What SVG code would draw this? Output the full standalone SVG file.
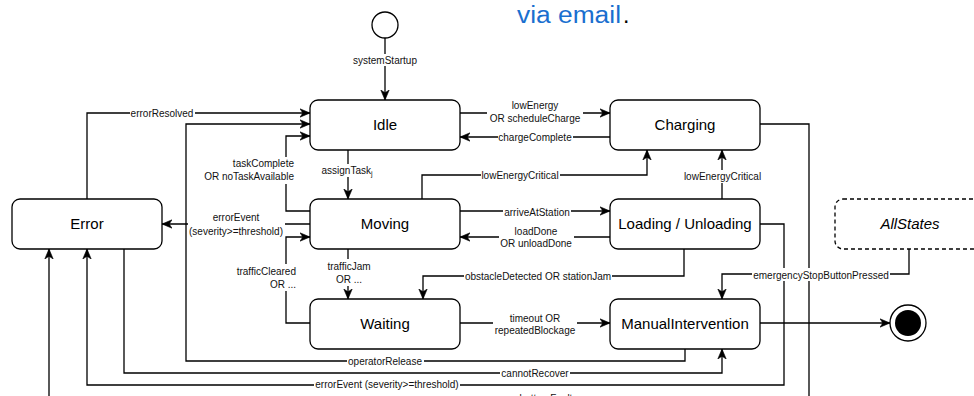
<svg xmlns="http://www.w3.org/2000/svg" width="974" height="396" viewBox="0 0 974 396">
<defs>
<style>
.node rect{fill:#fff;stroke:#000;stroke-width:1.3}
.ntext{font-family:"Liberation Sans",Arial,sans-serif;font-size:15px;fill:#000;text-anchor:middle}
.edge{fill:none;stroke:#000;stroke-width:1.3;marker-end:url(#arr)}
.lbl{font-family:"Liberation Sans",Arial,sans-serif;font-size:10px;fill:#111;text-anchor:middle}
.lbg{fill:#fff;stroke:none}
</style>
<marker id="arr" markerUnits="userSpaceOnUse" markerWidth="12" markerHeight="10" refX="10" refY="5" orient="auto">
<path d="M0,0.8 L10,5 L0,9.2 L2.8,5 Z" fill="#000" stroke="#000" stroke-width="0.6"/>
</marker>
</defs>
<rect width="974" height="396" fill="#fff"/>
<text x="517" y="23" font-family="'Liberation Sans',Arial,sans-serif" font-size="23" fill="#1a6fcf" textLength="104" lengthAdjust="spacingAndGlyphs">via email</text>
<text x="623" y="23" font-family="'Liberation Sans',Arial,sans-serif" font-size="23" fill="#000">.</text>

<g id="connectors">
<path class="edge" d="M385,38 V100"/>
<path class="edge" d="M87,199 V113 H310"/>
<path class="edge" d="M685,349 V361 H186 V124 H310"/>
<path class="edge" d="M310,211 H286 V136 H310"/>
<path class="edge" d="M310,224 H162"/>
<path class="edge" d="M310,323 H286 V237 H310"/>
<path class="edge" d="M348,150 V199"/>
<path class="edge" d="M348,249 V299"/>
<path class="edge" d="M460,113 H610"/>
<path class="edge" d="M610,137 H460"/>
<path class="edge" d="M422,199 V175 H647 V150"/>
<path class="edge" d="M722,199 V150"/>
<path class="edge" d="M460,211 H610"/>
<path class="edge" d="M610,237 H460"/>
<path class="edge" d="M684,249 V276 H423 V299"/>
<path class="edge" d="M460,323 H610"/>
<path class="edge" d="M909,249 V274 H722 V299"/>
<path class="edge" d="M760,323 H890"/>
<path class="edge" d="M124,249 V373 H722 V349"/>
<path class="edge" d="M760,224 H784 V385 H87 V249"/>
<path class="edge" d="M760,124 H809 V400 H49 V249"/>

<g id="labels">
<rect class="lbg" x="352" y="54" width="66" height="12"/>
<text class="lbl" x="385" y="63.5">systemStartup</text>
<rect class="lbg" x="130" y="107" width="65" height="12"/>
<text class="lbl" x="162" y="116.5">errorResolved</text>
<rect class="lbg" x="202" y="157" width="94" height="27"/>
<text class="lbl" x="294" y="166.5" style="text-anchor:end">taskComplete</text>
<text class="lbl" x="294" y="179.5" style="text-anchor:end">OR noTaskAvailable</text>
<rect class="lbg" x="188" y="210" width="97" height="28"/>
<text class="lbl" x="236" y="220.5">errorEvent</text>
<text class="lbl" x="236" y="234.5">(severity&gt;=threshold)</text>
<rect class="lbg" x="234" y="264" width="64" height="27"/>
<text class="lbl" x="296" y="275" style="text-anchor:end">trafficCleared</text>
<text class="lbl" x="296" y="287.5" style="text-anchor:end">OR ...</text>
<rect class="lbg" x="320" y="164" width="55" height="13"/>
<text class="lbl" x="347" y="174">assignTask<tspan font-size="7" dy="2">j</tspan></text>
<rect class="lbg" x="323" y="259" width="52" height="27"/>
<text class="lbl" x="349" y="269.5">trafficJam</text>
<text class="lbl" x="349" y="282.5">OR ...</text>
<rect class="lbg" x="487" y="99" width="96" height="26"/>
<text class="lbl" x="535" y="109">lowEnergy</text>
<text class="lbl" x="535" y="121.5">OR scheduleCharge</text>
<rect class="lbg" x="498" y="131" width="75" height="13"/>
<text class="lbl" x="535" y="141">chargeComplete</text>
<rect class="lbg" x="481" y="169" width="79" height="13"/>
<text class="lbl" x="520" y="179">lowEnergyCritical</text>
<rect class="lbg" x="683" y="170" width="79" height="13"/>
<text class="lbl" x="722.5" y="180">lowEnergyCritical</text>
<rect class="lbg" x="503" y="206" width="68" height="12"/>
<text class="lbl" x="537" y="215.5">arriveAtStation</text>
<rect class="lbg" x="499" y="224" width="75" height="26"/>
<text class="lbl" x="536" y="234.5">loadDone</text>
<text class="lbl" x="536" y="246.5">OR unloadDone</text>
<rect class="lbg" x="464" y="270" width="148" height="12"/>
<text class="lbl" x="538" y="279.5">obstacleDetected OR stationJam</text>
<rect class="lbg" x="493" y="311" width="84" height="26"/>
<text class="lbl" x="535" y="321.5">timeout OR</text>
<text class="lbl" x="535" y="333.5">repeatedBlockage</text>
<rect class="lbg" x="752" y="268" width="138" height="13"/>
<text class="lbl" x="821" y="278.5">emergencyStopButtonPressed</text>
<rect class="lbg" x="347" y="355" width="77" height="12"/>
<text class="lbl" x="385" y="364.5">operatorRelease</text>
<rect class="lbg" x="500" y="367" width="70" height="12"/>
<text class="lbl" x="535" y="376.5">cannotRecover</text>
<rect class="lbg" x="314" y="379" width="146" height="12"/>
<text class="lbl" x="387" y="387.5">errorEvent (severity&gt;=threshold)</text>
<rect class="lbg" x="518" y="393" width="56" height="12"/>
<text class="lbl" x="546" y="402">batteryFault</text>
</g>
</g>

<g id="start"><circle cx="385" cy="25" r="13" fill="#fff" stroke="#000" stroke-width="1.3"/></g>
<g id="idle" class="node"><rect x="310" y="100" width="150" height="50" rx="8"/><text class="ntext" x="385" y="130">Idle</text></g>
<g id="charging" class="node"><rect x="610" y="100" width="150" height="50" rx="8"/><text class="ntext" x="685" y="130">Charging</text></g>
<g id="moving" class="node"><rect x="310" y="199" width="150" height="50" rx="8"/><text class="ntext" x="385" y="229">Moving</text></g>
<g id="loading" class="node"><rect x="610" y="199" width="150" height="50" rx="8"/><text class="ntext" x="685" y="229">Loading / Unloading</text></g>
<g id="waiting" class="node"><rect x="310" y="299" width="150" height="50" rx="8"/><text class="ntext" x="385" y="329">Waiting</text></g>
<g id="manual" class="node"><rect x="610" y="299" width="150" height="50" rx="8"/><text class="ntext" x="685" y="329">ManualIntervention</text></g>
<g id="error" class="node"><rect x="12" y="199" width="150" height="50" rx="8"/><text class="ntext" x="87" y="229">Error</text></g>
<g id="allstates"><rect x="835" y="199" width="150" height="50" rx="8" fill="#fff" stroke="#000" stroke-width="1.3" stroke-dasharray="4 3"/><text class="ntext" x="910" y="229" font-style="italic">AllStates</text></g>
<g id="final"><circle cx="908" cy="323" r="18" fill="#fff" stroke="#000" stroke-width="1.3"/><circle cx="908" cy="323" r="13" fill="#000"/></g>
</svg>
